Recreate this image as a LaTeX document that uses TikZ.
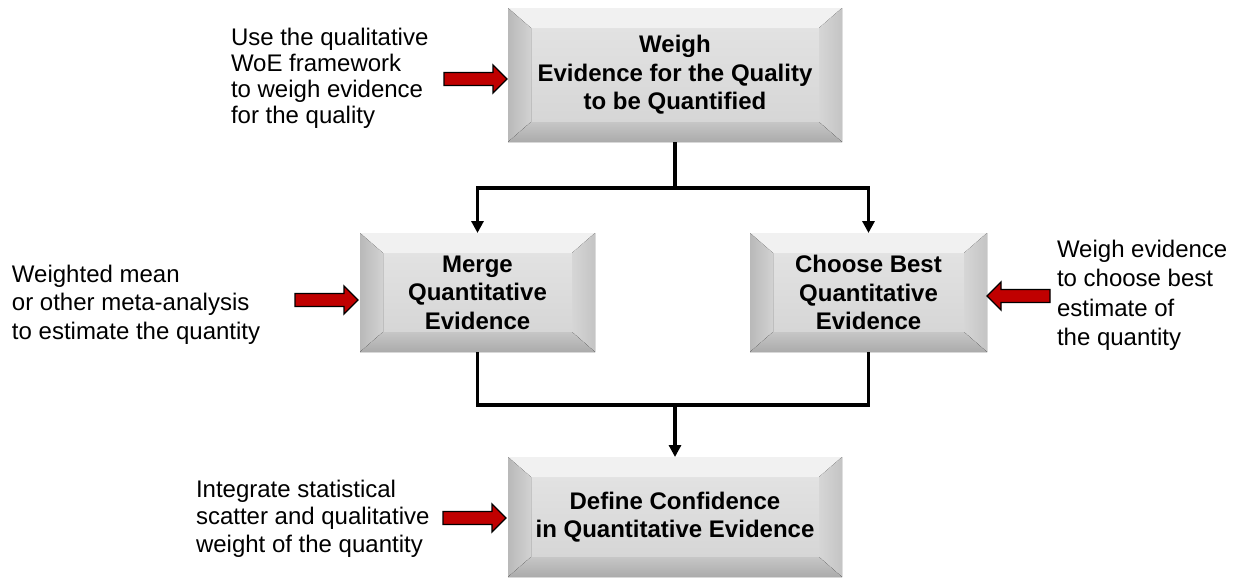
\documentclass[tikz,border=0pt]{standalone}
\usepackage{fontspec}
\setmainfont{Liberation Sans}
\usetikzlibrary{calc,arrows.meta,backgrounds}
\definecolor{facetop}{HTML}{E2E2E2}
\definecolor{facebot}{HTML}{D6D6D6}
\definecolor{bevtop}{HTML}{F1F1F1}
\definecolor{bevleftout}{HTML}{B9B9B9}
\definecolor{bevleftin}{HTML}{D2D2D2}
\definecolor{bevrightout}{HTML}{C4C4C4}
\definecolor{bevrightin}{HTML}{D6D6D6}
\definecolor{bevbotout}{HTML}{ABABAB}
\definecolor{bevbotin}{HTML}{C6C6C6}
\definecolor{arrowred}{HTML}{C00000}
\newcommand{\bevelpaint}{%
  \coordinate (bnw) at (path picture bounding box.north west);
  \coordinate (bne) at (path picture bounding box.north east);
  \coordinate (bse) at (path picture bounding box.south east);
  \coordinate (bsw) at (path picture bounding box.south west);
  \coordinate (inw) at ($(bnw)+(23,20)$);
  \coordinate (ine) at ($(bne)+(-23,20)$);
  \coordinate (ise) at ($(bse)+(-23,-20)$);
  \coordinate (isw) at ($(bsw)+(23,-20)$);
  \fill[top color=facetop, bottom color=facebot] (inw) rectangle (ise);
  \fill[bevtop] (bnw) -- (bne) -- (ine) -- (inw) -- cycle;
  \fill[left color=bevleftout, right color=bevleftin] (bnw) -- (inw) -- (isw) -- (bsw) -- cycle;
  \fill[left color=bevrightin, right color=bevrightout] (bne) -- (ine) -- (ise) -- (bse) -- cycle;
  \fill[top color=bevbotin, bottom color=bevbotout] (bsw) -- (isw) -- (ise) -- (bse) -- cycle;
}
% #1 = tip coordinate, #2 = 1 (points right) or -1 (points left)
\newcommand{\redarr}[2]{%
  \filldraw[redarrow, shift={(#1)}, xscale=#2]
    (0,0) -- (-14,-14) -- (-14,-6.5) -- (-63,-6.5) -- (-63,6.5) -- (-14,6.5) -- (-14,14) -- cycle;
}
\begin{document}
\begin{tikzpicture}[x=1pt,y=-1pt,
  bevelbox/.style={inner sep=0pt, outer sep=0pt, align=center,
    font=\fontsize{24}{28.5}\selectfont\bfseries, path picture={\bevelpaint}},
  note/.style={inner sep=0pt, outer sep=0pt, align=left, anchor=north west},
  redarrow/.style={draw=black, line width=1.3pt, fill=arrowred, line join=miter},
  conn/.style={line width=3.5pt, line join=miter},
  tipped/.style={conn, -{Triangle[width=12pt,length=12pt]}}
]
\useasboundingbox (0,0) rectangle (1241,582);
\fill[white] (0,0) rectangle (1241,582);

% boxes
\node[bevelbox, minimum width=334pt, minimum height=134pt] (weigh) at (675,75)
  {Weigh\\Evidence for the Quality\\to be Quantified};
\node[bevelbox, minimum width=235pt, minimum height=119pt] (merge) at (477.5,292.5)
  {Merge\\Quantitative\\Evidence};
\node[bevelbox, minimum width=237pt, minimum height=119pt] (choose) at (868.5,292.5)
  {Choose Best\\Quantitative\\Evidence};
\node[bevelbox, minimum width=334pt, minimum height=120pt] (define) at (675,517)
  {Define Confidence\\in Quantitative Evidence};

% shadows
\begin{scope}[on background layer]
  \foreach \n in {weigh,merge,choose,define}{
    \fill[black, opacity=0.12] ($(\n.north west)+(3,4)$) rectangle ($(\n.south east)+(4,5)$);
    \fill[black, opacity=0.2] ($(\n.north west)+(1,2)$) rectangle ($(\n.south east)+(2,3)$);
  }
\end{scope}

% connectors
\coordinate (split) at (675,188);
\coordinate (join) at (675,405);
\draw[conn] (weigh.south) -- (split);
\draw[tipped] (split) -| (merge.north);
\draw[tipped] (split) -| (choose.north);
\draw[conn] (merge.south) |- (join) -| (choose.south);
\draw[tipped] (join) -- (define.north);

% notes
\node[note, font=\fontsize{24}{26}\selectfont] (n1) at (231,28)
  {Use the qualitative\\WoE framework\\to weigh evidence\\for the quality};
\node[note, font=\fontsize{24}{28.5}\selectfont] (n2) at (12,265)
  {Weighted mean\\or other meta-analysis\\to estimate the quantity};
\node[note, font=\fontsize{24}{29.5}\selectfont] (n3) at (1057,240)
  {Weigh evidence\\to choose best\\estimate of\\the quantity};
\node[note, font=\fontsize{24}{27.5}\selectfont] (n4) at (196,480)
  {Integrate statistical\\scatter and qualitative\\weight of the quantity};

% red arrows
\coordinate (t1) at (507,79);
\coordinate (t2) at (358,300);
\coordinate (t3) at (987,296);
\coordinate (t4) at (506,518);
\redarr{t1}{1}
\redarr{t2}{1}
\redarr{t3}{-1}
\redarr{t4}{1}
\end{tikzpicture}
\end{document}
